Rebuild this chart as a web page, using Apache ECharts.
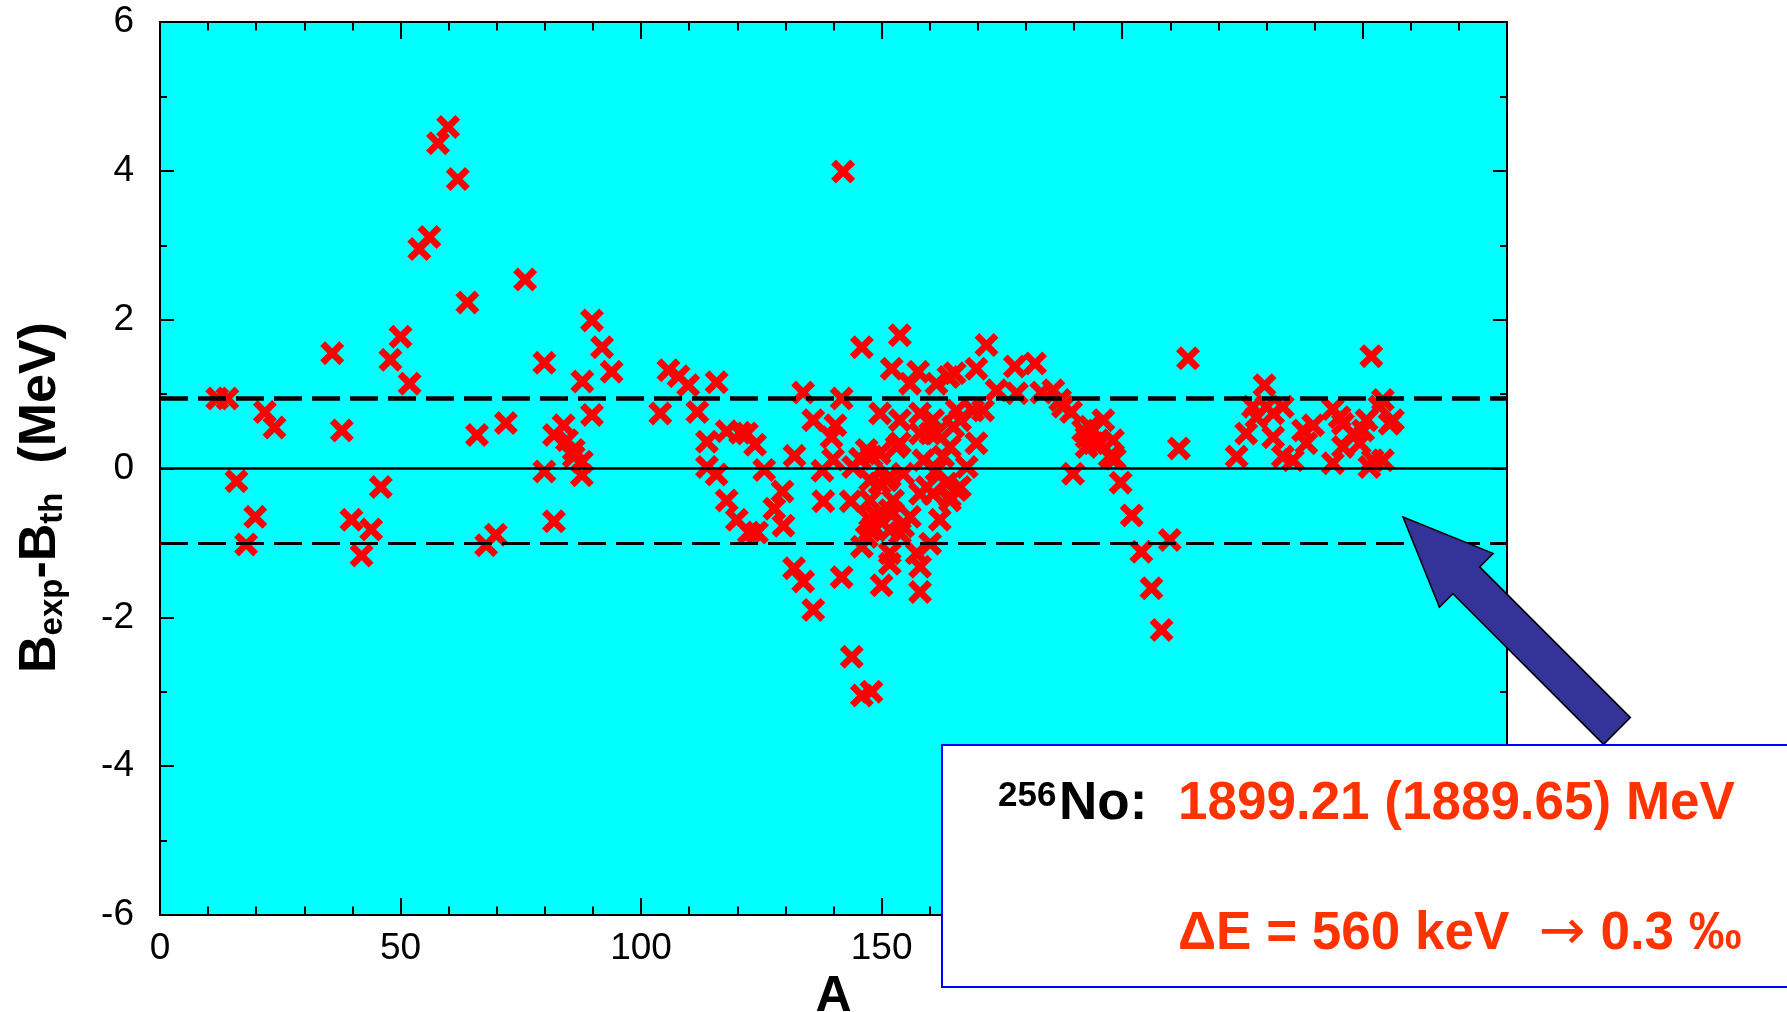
<!DOCTYPE html>
<html>
<head>
<meta charset="utf-8">
<title>Binding energy residuals</title>
<script src="https://cdn.jsdelivr.net/npm/echarts@6/dist/echarts.min.js"></script>
<style>
  html, body { margin: 0; padding: 0; background: #fff; }
  #chart { width: 1787px; height: 1012px; }
</style>
</head>
<body>
<div id="chart"></div>
<script>
// mass number A of each nucleus
var massA = [
  11.9, 14.0, 15.9, 17.9, 19.8, 21.8, 23.8, 35.8, 37.8, 39.8, 41.9, 43.9, 45.9, 47.9, 50.0, 51.9,
  53.9, 56.0, 57.8, 59.9, 61.9, 63.9, 65.9, 67.8, 69.8, 71.9, 75.9, 79.9, 79.9, 81.9, 81.9, 83.9,
  84.6, 86.0, 86.0, 87.7, 87.7, 87.8, 89.8, 89.8, 91.9, 93.9,
  104.0, 105.7, 107.8, 109.8, 111.7, 113.7, 113.7, 115.7, 115.7, 117.8, 117.8, 119.9, 120.6, 122.0,
  122.4, 124.1, 123.7, 125.6, 127.7, 129.4, 129.6, 131.9, 131.8, 133.7, 133.7, 135.8, 135.8, 137.9,
  137.7, 139.6, 140.4, 139.9, 141.7, 142.0, 141.7, 143.6, 143.8, 144.1, 145.9, 147.9, 145.9, 145.9, 147.9,
  146.9, 149.6, 148.3, 149.0, 149.7, 150.0, 147.6, 151.1, 147.6, 147.6, 146.9, 147.6, 151.7, 152.1,
  152.4, 152.4, 151.7, 151.7, 153.1, 153.8, 153.8, 154.5, 154.5, 155.9, 155.9, 157.3, 157.6, 158.0,
  158.7, 158.0, 158.0, 158.0, 159.4, 160.1, 160.1, 161.4, 161.4, 162.1, 162.8, 163.9, 163.5, 164.2,
  164.9, 165.2, 165.6, 165.6, 166.3, 167.7, 169.7, 169.7, 171.1, 171.8, 173.9,
  145.5, 149.6, 151.7, 153.8, 161.4, 164.2, 166.3, 169.0, 160.7, 158.0, 153.8, 151.7, 160.7, 164.2,
  177.7, 181.9, 178.1, 183.2, 185.7, 187.1, 187.7, 189.4, 189.8, 191.9, 192.6, 192.6, 193.3, 194.0,
  195.4, 196.1, 197.4, 198.1, 198.5, 199.7, 202.0, 204.0, 206.1, 208.2, 209.9, 211.8, 213.7,
  223.8, 225.8, 227.2, 227.9, 229.6, 230.0, 231.4, 231.4, 233.4, 233.4, 235.5, 237.6, 238.3, 239.7,
  243.8, 243.8, 245.2, 245.9, 245.9, 248.0, 249.4, 250.1, 250.8, 251.4, 251.8, 252.1, 253.5, 254.2,
  254.2, 255.6, 256.3
];

// B_exp - B_th in MeV, same order as massA
var deltaB = [
  0.94, 0.94, -0.17, -1.02, -0.65, 0.76, 0.55, 1.55, 0.51, -0.69, -1.17, -0.82, -0.25, 1.46, 1.77, 1.14,
  2.95, 3.11, 4.37, 4.59, 3.89, 2.23, 0.45, -1.03, -0.89, 0.61, 2.54, 1.42, -0.04, -0.71, 0.45, 0.58,
  0.38, 0.25, 0.16, 0.09, -0.09, 1.17, 1.99, 0.72, 1.63, 1.30,
  0.74, 1.32, 1.24, 1.12, 0.76, 0.36, 0.02, 1.16, -0.08, 0.50, -0.43, -0.69, 0.48, 0.47,
  -0.86, -0.86, 0.32, -0.02, -0.54, -0.31, -0.77, 0.17, -1.34, 1.02, -1.52, 0.65, -1.90, -0.44,
  -0.03, 0.42, 0.58, 0.12, 0.94, 3.99, -1.46, -0.44, -2.53, 0.02, -3.05, -3.00, 1.63, -1.05, 0.16,
  0.25, 0.20, -0.78, -0.65, 0.74, -1.57, -0.16, -0.16, -0.43, -0.83, -0.92, -0.69, -1.28, 1.34,
  -0.43, -0.60, -0.83, -1.14, 0.29, 1.79, 0.65, -0.07, -0.78, 1.14, -0.65, -1.14, 1.30, 0.74,
  0.11, -0.34, -1.32, -1.66, -0.25, 0.47, -1.01, 1.14, 0.47, -0.69, 0.16, 1.23, -0.20, -0.43,
  0.56, 1.28, -0.29, 0.78, -0.25, 0.02, 1.34, 0.34, 0.78, 1.66, 1.05,
  0.13, -0.20, -0.56, -0.87, -0.02, 0.29, 0.65, 0.78, 0.65, 0.47, 0.34, -0.11, -0.34, -0.38,
  1.37, 1.41, 1.01, 1.02, 1.05, 0.92, 0.83, 0.76, -0.07, 0.51, 0.29, 0.42, 0.56, 0.34,
  0.34, 0.65, 0.16, 0.38, 0.13, -0.19, -0.63, -1.12, -1.61, -2.17, -0.96, 0.27, 1.48,
  0.16, 0.47, 0.83, 0.69, 1.12, 0.83, 0.74, 0.42, 0.83, 0.16, 0.11, 0.51, 0.34, 0.58,
  0.80, 0.07, 0.69, 0.60, 0.29, 0.47, 0.34, 0.51, 0.65, 0.02, 1.51, 0.11, 0.83, 0.92,
  0.11, 0.60, 0.65
];

// horizontal reference levels (MeV)
var zeroLevel = 0;
var upperBand = 0.94;
var lowerBand = -1.0;

var xRange = [0, 280];
var yRange = [-6, 6];

var FONT = '"Liberation Sans", Arial, Helvetica, sans-serif';
var RED_TEXT = '#ff3300';
// thick "x" marker
var crossPath = 'path://M2,0L5,3L8,0L10,2L7,5L10,8L8,10L5,7L2,10L0,8L3,5L0,2Z';

var points = massA.map(function (a, i) { return [a, deltaB[i]]; });

var black = { color: '#000', width: 2 };

function xAxisBase(pos) {
  return {
    type: 'value', position: pos, min: xRange[0], max: xRange[1], interval: 50,
    axisLine: { show: true, onZero: false, lineStyle: black },
    axisTick: { show: true, inside: true, length: 17, lineStyle: black },
    minorTick: { show: true, splitNumber: 5, length: 8.5, lineStyle: black },
    splitLine: { show: false },
    axisLabel: { show: pos === 'bottom', color: '#000', fontSize: 37, fontFamily: FONT, margin: 15 }
  };
}

function yAxisBase(pos) {
  return {
    type: 'value', position: pos, min: yRange[0], max: yRange[1], interval: 2,
    axisLine: { show: true, onZero: false, lineStyle: black },
    axisTick: { show: true, inside: true, length: 14, lineStyle: black },
    minorTick: { show: true, splitNumber: 2, length: 7, lineStyle: black },
    splitLine: { show: false },
    axisLabel: { show: pos === 'left', color: '#000', fontSize: 37, fontFamily: FONT, margin: 26 }
  };
}

var xBottom = xAxisBase('bottom');
xBottom.name = 'A';
xBottom.nameLocation = 'middle';
xBottom.nameGap = 51;
xBottom.nameTextStyle = { fontSize: 50, fontWeight: 'bold', fontFamily: FONT, color: '#000' };

var yLeft = yAxisBase('left');
yLeft.name = '{b|B}{s|exp}{b|-B}{s|th}{b|  (MeV)}';
yLeft.nameLocation = 'middle';
yLeft.nameRotate = 90;
yLeft.nameGap = 91;
yLeft.nameTextStyle = {
  padding: [0, 58, 0, 0],
  rich: {
    b: { fontSize: 52, fontWeight: 'bold', fontFamily: FONT, color: '#000', lineHeight: 56 },
    s: { fontSize: 33, fontWeight: 'bold', fontFamily: FONT, color: '#000', lineHeight: 33,
         verticalAlign: 'bottom', padding: [27, 0, 0, 0] }
  }
};

var chart = echarts.init(document.getElementById('chart'));
chart.setOption({
  animation: false,
  backgroundColor: '#fff',
  grid: {
    left: 160, right: 280, top: 22, bottom: 97,
    outerBoundsMode: 'none',
    containLabel: false,
    show: true, backgroundColor: '#00ffff', borderColor: '#000', borderWidth: 2
  },
  xAxis: [xBottom, xAxisBase('top')],
  yAxis: [yLeft, yAxisBase('right')],
  series: [{
    type: 'scatter',
    data: points,
    symbol: crossPath,
    symbolSize: 24,
    itemStyle: { color: '#ff0000', opacity: 1 },
    z: 2,
    markLine: {
      silent: true,
      symbol: 'none',
      animation: false,
      label: { show: false },
      emphasis: { disabled: true },
      data: [
        { yAxis: zeroLevel, lineStyle: { color: '#000', type: 'solid', width: 2.5 } },
        { yAxis: upperBand, lineStyle: { color: '#000', type: [28, 10], width: 4.5 } },
        { yAxis: lowerBand, lineStyle: { color: '#000', type: [28, 10], width: 3 } }
      ]
    }
  }],
  graphic: [
    {
      type: 'polygon', z: 100,
      shape: { points: [[1403, 517], [1493.2, 553.4], [1479.7, 566.9], [1630.4, 717.6],
                        [1603.6, 744.4], [1452.9, 593.7], [1439.4, 607.2]] },
      style: { fill: '#333399', stroke: '#000', lineWidth: 1.5 }
    },
    {
      type: 'rect', z: 101,
      shape: { x: 942, y: 745, width: 880, height: 242 },
      style: { fill: '#fff', stroke: '#0000ff', lineWidth: 2 }
    },
    {
      type: 'text', z: 102, x: 998, y: 796,
      style: { text: '256', fill: '#000', font: 'bold 35px ' + FONT, textAlign: 'left', textVerticalAlign: 'middle' }
    },
    {
      type: 'text', z: 102, x: 1059, y: 804,
      style: { text: 'No:', fill: '#000', font: 'bold 53px ' + FONT, textAlign: 'left', textVerticalAlign: 'middle' }
    },
    {
      type: 'text', z: 102, x: 1178, y: 804,
      style: { text: '1899.21 (1889.65) MeV', fill: RED_TEXT, font: 'bold 53px ' + FONT, textAlign: 'left', textVerticalAlign: 'middle' }
    },
    {
      type: 'text', z: 102, x: 1178, y: 934,
      style: {
        text: '{b|ΔE = 560 keV  }{a|→}{b| 0.3 ‰}',
        textAlign: 'left', textVerticalAlign: 'middle',
        rich: {
          b: { fill: RED_TEXT, fontSize: 53, fontWeight: 'bold', fontFamily: FONT },
          a: { fill: RED_TEXT, fontSize: 56, fontWeight: 'normal', fontFamily: '"DejaVu Sans", ' + FONT }
        }
      }
    }
  ]
});
</script>
</body>
</html>
